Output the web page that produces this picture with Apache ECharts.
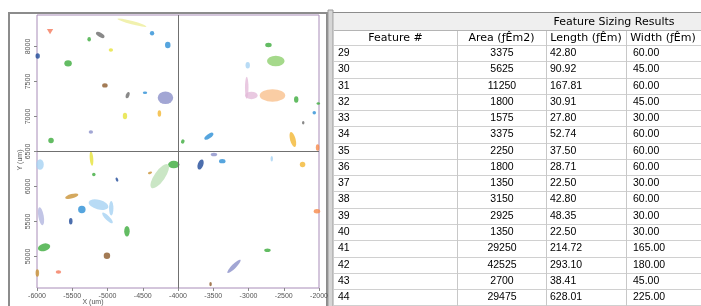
<!DOCTYPE html>
<html>
<head>
<meta charset="utf-8">
<script src="https://cdn.jsdelivr.net/npm/echarts@6/dist/echarts.min.js"></script>
<style>
html,body{margin:0;padding:0;background:#fff;}
#main{width:701px;height:306px;}
</style>
</head>
<body>
<div id="main"></div>
<script>
// axis ticks (um)
var xTicks = [-6000, -5500, -5000, -4500, -4000, -3500, -3000, -2500, -2000];
var yTicks = [5000, 5500, 6000, 6500, 7000, 7500, 8000];

// colours of the features
var C = {
	salmon: '#f4795b', paleYellow: '#eded9a', blue: '#2c8fd6', darkGray: '#6b6b6b',
	green: '#3cab3c', yellow: '#e6e23a', navy: '#1f4a99', lightGreen: '#8fd06e',
	lightBlue: '#a6d2f2', brown: '#8c5a2a', lavender: '#8b90c9', pink: '#e4bcd9',
	peach: '#f9c18d', orangeYellow: '#f2b632', orange: '#f7894a', paleGreen: '#bde0b6',
	tan: '#c99236', lilac: '#b3b6e0'
};

// features: [x, y, width(um), height(um), rotate, colour, symbol]
var blobs = [
	[-5815, 8212, 90, 75, 180, 'salmon', 'triangle'],
	[-4653, 8341, 425, 50, -15, 'paleYellow'],
	[-4368, 8189, 62, 62, 0, 'blue'],
	[-5103, 8165, 135, 62, -30, 'darkGray'],
	[-5260, 8103, 50, 62, 0, 'green'],
	[-4145, 8022, 78, 92, 0, 'blue'],
	[-4952, 7950, 62, 50, 0, 'yellow'],
	[-5990, 7864, 62, 78, 0, 'navy'],
	[-5559, 7759, 106, 92, 0, 'green'],
	[-2717, 8022, 92, 62, 0, 'green'],
	[-2613, 7793, 250, 150, 0, 'lightGreen'],
	[-3011, 7731, 62, 92, 0, 'lightBlue'],
	[-5037, 7444, 78, 62, 0, 'brown'],
	[-4714, 7306, 50, 92, -20, 'darkGray'],
	[-4468, 7340, 62, 35, 0, 'blue'],
	[-4178, 7268, 220, 178, 0, 'lavender'],
	[-3025, 7410, 50, 312, 0, 'pink'],
	[-2959, 7301, 178, 106, 0, 'pink'],
	[-2660, 7301, 362, 178, 0, 'peach'],
	[-2323, 7244, 62, 92, 0, 'green'],
	[-2010, 7187, 50, 35, 0, 'green'],
	[-2067, 7053, 50, 50, 0, 'blue'],
	[-2224, 6910, 35, 50, 0, 'darkGray'],
	[-4752, 7006, 62, 92, 0, 'yellow'],
	[-4264, 7044, 50, 92, 0, 'orangeYellow'],
	[-5236, 6777, 62, 50, 0, 'lavender'],
	[-5801, 6657, 78, 78, 0, 'green'],
	[-3932, 6643, 50, 62, -20, 'green'],
	[-3562, 6719, 150, 62, 35, 'blue'],
	[-2371, 6672, 78, 220, 15, 'orangeYellow'],
	[-2020, 6557, 50, 92, 0, 'orange'],
	[-5227, 6400, 50, 205, 5, 'yellow'],
	[-5957, 6314, 106, 150, 0, 'lightBlue'],
	[-3490, 6457, 92, 50, 0, 'lavender'],
	[-3372, 6362, 92, 62, 0, 'blue'],
	[-3680, 6314, 78, 150, -20, 'navy'],
	[-2670, 6395, 35, 78, 0, 'lightBlue'],
	[-2233, 6314, 78, 78, 0, 'orangeYellow'],
	[-4060, 6314, 162, 106, 0, 'green'],
	[-4259, 6147, 150, 405, -35, 'paleGreen'],
	[-4397, 6195, 62, 35, 20, 'tan'],
	[-5194, 6171, 50, 50, 0, 'green'],
	[-4866, 6099, 35, 62, 20, 'navy'],
	[-5507, 5861, 192, 62, 15, 'tan'],
	[-5127, 5742, 290, 135, -15, 'lightBlue'],
	[-5000, 5551, 205, 62, -45, 'lightBlue'],
	[-4947, 5689, 62, 205, 0, 'lightBlue'],
	[-5364, 5670, 106, 106, 0, 'blue'],
	[-5943, 5575, 78, 262, 10, 'lilac'],
	[-5521, 5503, 50, 92, 0, 'navy'],
	[-4724, 5360, 78, 150, 0, 'green'],
	[-5900, 5131, 178, 106, 15, 'green'],
	[-5008, 5012, 92, 92, 0, 'brown'],
	[-5696, 4778, 78, 50, 0, 'salmon'],
	[-5995, 4764, 50, 106, 0, 'tan'],
	[-3538, 4606, 35, 62, 0, 'brown'],
	[-3206, 4859, 262, 62, 45, 'lavender'],
	[-2731, 5088, 92, 50, 0, 'green'],
	[-2029, 5646, 92, 62, 0, 'orange']
];

// table: Feature Sizing Results
var featureIds = [29, 30, 31, 32, 33, 34, 35, 36, 37, 38, 39, 40, 41, 42, 43, 44];
var areas = [3375, 5625, 11250, 1800, 1575, 3375, 2250, 1800, 1350, 3150, 2925, 1350, 29250, 42525, 2700, 29475];
var lengths = ['42.80', '90.92', '167.81', '30.91', '27.80', '52.74', '37.50', '28.71', '22.50', '42.80', '48.35', '22.50', '214.72', '293.10', '38.41', '628.01'];
var widths = ['60.00', '45.00', '60.00', '45.00', '30.00', '60.00', '60.00', '60.00', '30.00', '60.00', '30.00', '30.00', '165.00', '180.00', '45.00', '225.00'];
var headers = ['Feature #', 'Area (\u0192\u00cam2)', 'Length (\u0192\u00cam)', 'Width (\u0192\u00cam)'];

var chart = echarts.init(document.getElementById('main'));

var gridL = 37, gridT = 15, gridW = 282, gridH = 273;
var umPerPx = 4000 / gridW;

var scatterData = blobs.map(function (b) {
	return {
		value: [b[0], b[1], b[2], b[3]],
		symbol: b[6] || 'circle',
		symbolRotate: b[4],
		itemStyle: { color: C[b[5]] }
	};
});

// table graphics
var colX = [334, 457, 546, 626, 700];
var rowH = 16.27, row0 = 45;
var headFont = '11px "DejaVu Sans", sans-serif';
var font = '10.5px "Liberation Sans", Arial, sans-serif';
var g = [];
// window frames
g.push({ type: 'rect', shape: { x: 9, y: 13, width: 318, height: 310 }, style: { fill: 'none', stroke: '#8c8c8c', lineWidth: 2 } });
g.push({ type: 'rect', shape: { x: 328, y: 10, width: 5, height: 300 }, style: { fill: '#d6d6d6', stroke: '#9a9a9a', lineWidth: 1 } });
g.push({ type: 'rect', shape: { x: 334, y: 13, width: 380, height: 17 }, style: { fill: '#efefef' } });
g.push({ type: 'line', shape: { x1: 333, y1: 12.5, x2: 701, y2: 12.5 }, style: { stroke: '#8c8c8c', lineWidth: 1 } });
g.push({ type: 'line', shape: { x1: 334, y1: 30.5, x2: 701, y2: 30.5 }, style: { stroke: '#b4b4b4', lineWidth: 1 } });
g.push({ type: 'text', style: { text: 'Feature Sizing Results', x: 614, y: 22, align: 'center', verticalAlign: 'middle', font: headFont, fill: '#000' } });
headers.forEach(function (h, i) {
	g.push({ type: 'text', style: { text: h, x: (colX[i] + colX[i + 1]) / 2, y: 38, align: 'center', verticalAlign: 'middle', font: headFont, fill: '#000' } });
});
// grid lines
for (var r = 0; r <= featureIds.length; r++) {
	var yy = Math.round(row0 + r * rowH) + 0.5;
	g.push({ type: 'line', shape: { x1: 334, y1: yy, x2: 701, y2: yy }, style: { stroke: '#d0d0d0', lineWidth: 1 } });
}
for (var c = 1; c < 4; c++) {
	g.push({ type: 'line', shape: { x1: colX[c] + 0.5, y1: 31, x2: colX[c] + 0.5, y2: 306 }, style: { stroke: '#c8c8c8', lineWidth: 1 } });
}
featureIds.forEach(function (id, i) {
	var cy = row0 + i * rowH + rowH / 2;
	g.push({ type: 'text', style: { text: String(id), x: 338, y: cy, verticalAlign: 'middle', font: font, fill: '#000' } });
	g.push({ type: 'text', style: { text: String(areas[i]), x: 502, y: cy, align: 'center', verticalAlign: 'middle', font: font, fill: '#000' } });
	g.push({ type: 'text', style: { text: lengths[i], x: 550, y: cy, verticalAlign: 'middle', font: font, fill: '#000' } });
	g.push({ type: 'text', style: { text: widths[i], x: 633, y: cy, verticalAlign: 'middle', font: font, fill: '#000' } });
});
// axis titles
g.push({ type: 'text', style: { text: 'X (um)', x: 93, y: 302, align: 'center', verticalAlign: 'middle', font: '7px "Liberation Sans", Arial, sans-serif', fill: '#555' } });
g.push({ type: 'text', rotation: Math.PI / 2, x: 20, y: 160, style: { text: 'Y (um)', x: 0, y: 0, align: 'center', verticalAlign: 'middle', font: '7px "Liberation Sans", Arial, sans-serif', fill: '#555' } });

function plain(v) { return String(v); }

chart.setOption({
	backgroundColor: '#fff',
	animation: false,
	grid: {
		left: gridL, top: gridT, width: gridW, height: gridH,
		show: true, borderColor: '#a88cb8', borderWidth: 1
	},
	xAxis: {
		type: 'value', min: -6000, max: -2000,
		axisLine: { show: false },
		axisTick: { show: true, customValues: xTicks, length: 3, lineStyle: { color: '#888' } },
		axisLabel: { customValues: xTicks, formatter: plain, fontSize: 7, color: '#555', margin: 5, fontFamily: 'Liberation Sans' },
		splitLine: { show: false }
	},
	yAxis: {
		type: 'value', min: 4550, max: 8450,
		axisLine: { show: false },
		axisTick: { show: true, customValues: yTicks, length: 3, lineStyle: { color: '#888' } },
		axisLabel: { customValues: yTicks, formatter: plain, fontSize: 7, color: '#555', rotate: 90, margin: 5, fontFamily: 'Liberation Sans' },
		splitLine: { show: false }
	},
	graphic: g,
	series: [{
		type: 'scatter',
		symbolSize: function (v) { return [v[2] / umPerPx, v[3] / umPerPx]; },
		data: scatterData,
		markLine: {
			silent: true, symbol: 'none',
			label: { show: false },
			lineStyle: { color: '#707070', width: 1, type: 'solid' },
			data: [{ xAxis: -4000 }, { yAxis: 6500 }]
		}
	}]
});
</script>
</body>
</html>
